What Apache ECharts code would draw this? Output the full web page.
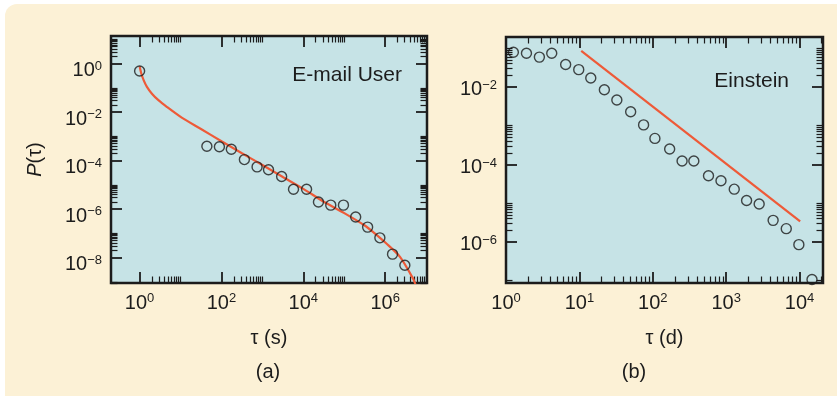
<!DOCTYPE html>
<html><head><meta charset="utf-8">
<script src="https://cdn.jsdelivr.net/npm/echarts@6/dist/echarts.min.js"></script>
<style>html,body{margin:0;padding:0;background:#fff}#c{width:837px;height:396px}</style>
</head><body><div id="c"></div>
<script>
// ---- Panel (a): E-mail user ----
const emailTau = [1, 44, 89, 174, 363, 741, 1410, 2950, 5750, 12000, 23400, 46800, 95500, 190000, 372000, 741000, 1510000, 3020000];
const emailP = [0.5, 3.9e-4, 3.7e-4, 2.95e-4, 1.1e-4, 5.5e-5, 4.2e-5, 2.2e-5, 6.6e-6, 6.6e-6, 1.95e-6, 1.45e-6, 1.45e-6, 4.7e-7, 1.8e-7, 6.5e-8, 1.38e-8, 4.8e-9];
const emailFitTau = [1, 1.1, 1.26, 1.51, 2.0, 2.88, 4.68, 10.7, 31.6, 100, 316, 1000, 3160, 10000, 31600, 100000, 316000, 501000, 1070000, 2300000, 4800000, 5600000];
const emailFitP = [0.78, 0.39, 0.204, 0.11, 0.0575, 0.031, 0.0162, 0.0059, 0.0020, 6.3e-4, 2.0e-4, 6.6e-5, 2.1e-5, 6.8e-6, 2.0e-6, 6.8e-7, 2.1e-7, 1.15e-7, 3.8e-8, 1.07e-8, 1.35e-9, 7e-10];
// ---- Panel (b): Einstein ----
const einsteinTau = [1.26, 1.9, 2.85, 4.2, 6.5, 9.8, 14.3, 21.9, 32.4, 50, 75, 107, 170, 251, 363, 575, 851, 1290, 1900, 2820, 4370, 6600, 9800, 14800];
const einsteinP = [0.079, 0.074, 0.059, 0.074, 0.038, 0.028, 0.017, 0.0085, 0.0046, 0.0023, 0.00105, 4.7e-4, 2.5e-4, 1.23e-4, 1.23e-4, 5.1e-5, 3.8e-5, 2.3e-5, 1.17e-5, 9.5e-6, 3.6e-6, 2.2e-6, 8.5e-7, 1.07e-7];
const einsteinFitTau = [10.6, 10200];
const einsteinFitP = [0.085, 3.4e-6];
// ---- tick values ----
const aXMajor = [1, 100, 1e4, 1e6];
const aYMajor = [1e-8, 1e-6, 1e-4, 1e-2, 1];
const bXMajor = [1, 10, 100, 1000, 1e4];
const bYMajor = [1e-6, 1e-4, 1e-2];
const aRangeX = [0.2, 1.05e7], aRangeY = [8.9e-10, 13.8];
const bRangeX = [1, 20900], bRangeY = [8.7e-8, 0.195];

const FONT = '"Liberation Sans", Arial, Helvetica, sans-serif';
const INK = '#1c1c1c';
function supLabel(v) {
  const e = Math.round(Math.log10(v));
  return '{b|10}{s|' + (e < 0 ? '\u2212' + (-e) : String(e)) + '}';
}
const labelRich = {
  b: {fontSize: 20, fontFamily: FONT, color: INK, lineHeight: 22},
  s: {fontSize: 13, fontFamily: FONT, color: INK, lineHeight: 13, verticalAlign: 'top'}
};
function minorsOf(majors, upTo) {
  const out = [];
  majors.forEach(m => { for (let k = 2; k <= upTo; k++) out.push(+(m * k).toPrecision(6)); });
  return out;
}
function axis(grid, pos, range, ticks, len, width, labels, extra, labelPad) {
  const a = {
    type: 'log', logBase: 10, gridIndex: grid, position: pos, min: range[0], max: range[1],
    axisLine: {show: false, onZero: false},
    splitLine: {show: false},
    axisTick: {show: true, inside: true, length: len, customValues: ticks, lineStyle: {color: INK, width: width}},
    axisLabel: labels ? {show: true, customValues: labels, formatter: supLabel, rich: labelRich, margin: 9, padding: labelPad || 0} : {show: false},
    silent: true
  };
  return Object.assign(a, extra || {});
}
const MAJ = 11, MIN = 6.5, MW = 1.8, NW = 1.2;
const aXMinor = minorsOf(aXMajor, 10);
const aYMinor = minorsOf([1e-10].concat(aYMajor), 10);
const bXMinor = minorsOf(bXMajor, 9);
const bYMinor = minorsOf([1e-8].concat(bYMajor), 10);

const nameStyle = {fontSize: 20, fontFamily: FONT, color: INK};
const xAxes = [
  axis(0, 'bottom', aRangeX, aXMajor, MAJ, MW, aXMajor, {name: '\u03c4 (s)', nameLocation: 'middle', nameGap: 45, nameTextStyle: nameStyle}),
  axis(0, 'bottom', aRangeX, aXMinor, MIN, NW, null),
  axis(0, 'top', aRangeX, aXMajor, MAJ, MW, null),
  axis(0, 'top', aRangeX, aXMinor, MIN, NW, null),
  axis(1, 'bottom', bRangeX, bXMajor, MAJ, MW, bXMajor, {name: '\u03c4 (d)', nameLocation: 'middle', nameGap: 45, nameTextStyle: nameStyle}),
  axis(1, 'bottom', bRangeX, bXMinor, MIN, NW, null),
  axis(1, 'top', bRangeX, bXMajor, MAJ, MW, null),
  axis(1, 'top', bRangeX, bXMinor, MIN, NW, null)
];
const yAxes = [
  axis(0, 'left', aRangeY, aYMajor, MAJ, MW, aYMajor, {name: '{i|P}(\u03c4)', nameLocation: 'middle', nameGap: 66, nameRotate: 90,
    nameTextStyle: Object.assign({rich: {i: {fontStyle: 'italic', fontSize: 20, fontFamily: FONT, color: INK}}}, nameStyle)}, [14, 0, 0, 0]),
  axis(0, 'left', aRangeY, aYMinor, MIN, NW, null),
  axis(0, 'right', aRangeY, aYMajor, MAJ, MW, null),
  axis(0, 'right', aRangeY, aYMinor, MIN, NW, null),
  axis(1, 'left', bRangeY, bYMajor, MAJ, MW, bYMajor, null, [6, 0, 0, 0]),
  axis(1, 'left', bRangeY, bYMinor, MIN, NW, null),
  axis(1, 'right', bRangeY, bYMajor, MAJ, MW, null),
  axis(1, 'right', bRangeY, bYMinor, MIN, NW, null)
];
const zip = (a, b) => a.map((v, i) => [v, b[i]]);
const RED = '#EE5A38';
const circleStyle = {color: 'rgba(0,0,0,0)', borderColor: INK, borderWidth: 1.4};

const chart = echarts.init(document.getElementById('c'), null, {renderer: 'canvas'});
chart.setOption({
  animation: false,
  backgroundColor: '#ffffff',
  graphic: [
    {type: 'rect', z: -10, shape: {x: 5, y: 4, width: 900, height: 500, r: 12}, style: {fill: '#FCF1D6'}, silent: true},
    {type: 'text', x: 402, y: 75, style: {text: 'E-mail User', font: '21px ' + FONT, fill: INK, align: 'right', verticalAlign: 'middle'}},
    {type: 'text', x: 789, y: 81, style: {text: 'Einstein', font: '21px ' + FONT, fill: INK, align: 'right', verticalAlign: 'middle'}},
    {type: 'text', x: 268, y: 372, style: {text: '(a)', font: '20px ' + FONT, fill: INK, align: 'center', verticalAlign: 'middle'}},
    {type: 'text', x: 634, y: 372, style: {text: '(b)', font: '20px ' + FONT, fill: INK, align: 'center', verticalAlign: 'middle'}}
  ],
  grid: [
    {left: 111, top: 36, width: 316, height: 247, show: true, backgroundColor: '#C6E3E6', borderColor: INK, borderWidth: 2.5},
    {left: 506, top: 37, width: 317, height: 246, show: true, backgroundColor: '#C6E3E6', borderColor: INK, borderWidth: 2.5}
  ],
  xAxis: xAxes,
  yAxis: yAxes,
  series: [
    {type: 'line', xAxisIndex: 0, yAxisIndex: 0, data: zip(emailFitTau, emailFitP), showSymbol: false, smooth: 0.25,
      lineStyle: {color: RED, width: 2.2}, clip: true, z: 2, silent: true},
    {type: 'scatter', xAxisIndex: 0, yAxisIndex: 0, data: zip(emailTau, emailP), symbol: 'circle', symbolSize: 10,
      itemStyle: circleStyle, z: 3, silent: true},
    {type: 'line', xAxisIndex: 4, yAxisIndex: 4, data: zip(einsteinFitTau, einsteinFitP), showSymbol: false,
      lineStyle: {color: RED, width: 2.2}, clip: true, z: 2, silent: true},
    {type: 'scatter', xAxisIndex: 4, yAxisIndex: 4, data: zip(einsteinTau, einsteinP), symbol: 'circle', symbolSize: 10,
      itemStyle: circleStyle, z: 3, silent: true}
  ]
});
</script>
</body></html>
